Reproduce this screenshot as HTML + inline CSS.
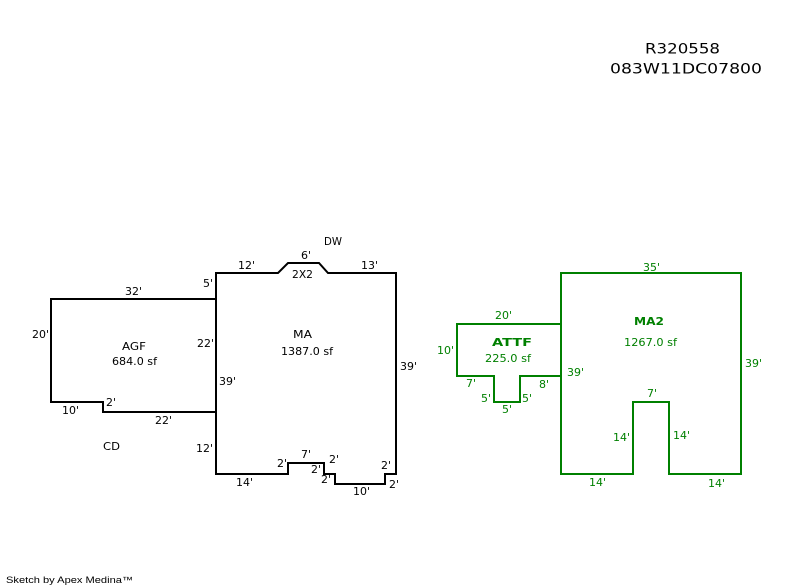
<!DOCTYPE html>
<html><head><meta charset="utf-8"><style>
html,body{margin:0;padding:0;background:#fff;}
svg{display:block;}
text{font-family:"DejaVu Sans","Liberation Sans",sans-serif;font-size:11px;fill:#000;}
.g text{fill:#008000;}
</style></head><body>
<svg width="800" height="587" viewBox="0 0 800 587" xmlns="http://www.w3.org/2000/svg">
<rect width="800" height="587" fill="#fff"/>
<text x="645" y="53.5" style="font-size:14px" textLength="75" lengthAdjust="spacingAndGlyphs">R320558</text>
<text x="610" y="73.5" style="font-size:14px" textLength="152" lengthAdjust="spacingAndGlyphs">083W11DC07800</text>

<g fill="none" stroke="#000" stroke-width="2" stroke-linejoin="miter">
<polyline points="216,299 51,299 51,402 103,402 103,412 216,412"/>
<polygon points="216,273 278,273 288,263 319,263 328,273 396,273 396,474 385,474 385,484 335,484 335,474 324,474 324,463 288,463 288,474 216,474"/>
</g>
<g fill="none" stroke="#008000" stroke-width="2">
<polyline points="561,324 457,324 457,376 494,376 494,402 520,402 520,376 561,376"/>
<polygon points="561,273 741,273 741,474 669,474 669,402 633,402 633,474 561,474"/>
</g>

<!-- AGF labels -->
<text x="125" y="295" textLength="17" lengthAdjust="spacingAndGlyphs">32'</text>
<text x="32" y="338" textLength="17" lengthAdjust="spacingAndGlyphs">20'</text>
<text x="122" y="350" textLength="24" lengthAdjust="spacingAndGlyphs">AGF</text>
<text x="112" y="365" textLength="45" lengthAdjust="spacingAndGlyphs">684.0 sf</text>
<text x="203" y="287">5'</text>
<text x="197" y="347" textLength="17" lengthAdjust="spacingAndGlyphs">22'</text>
<text x="62" y="414" textLength="17" lengthAdjust="spacingAndGlyphs">10'</text>
<text x="106" y="406">2'</text>
<text x="155" y="424" textLength="17" lengthAdjust="spacingAndGlyphs">22'</text>
<text x="103" y="450" textLength="17" lengthAdjust="spacingAndGlyphs">CD</text>
<text x="196" y="452" textLength="17" lengthAdjust="spacingAndGlyphs">12'</text>

<!-- MA labels -->
<text x="324" y="245" textLength="18" lengthAdjust="spacingAndGlyphs">DW</text>
<text x="301" y="259">6'</text>
<text x="238" y="269" textLength="17" lengthAdjust="spacingAndGlyphs">12'</text>
<text x="361" y="269" textLength="17" lengthAdjust="spacingAndGlyphs">13'</text>
<text x="292" y="278" textLength="21" lengthAdjust="spacingAndGlyphs">2X2</text>
<text x="293" y="338" textLength="19" lengthAdjust="spacingAndGlyphs">MA</text>
<text x="281" y="355" textLength="52" lengthAdjust="spacingAndGlyphs">1387.0 sf</text>
<text x="400" y="370" textLength="17" lengthAdjust="spacingAndGlyphs">39'</text>
<text x="219" y="385" textLength="17" lengthAdjust="spacingAndGlyphs">39'</text>
<text x="277" y="467">2'</text>
<text x="301" y="458">7'</text>
<text x="329" y="463">2'</text>
<text x="311" y="473">2'</text>
<text x="321" y="483">2'</text>
<text x="381" y="469">2'</text>
<text x="389" y="488">2'</text>
<text x="236" y="486" textLength="17" lengthAdjust="spacingAndGlyphs">14'</text>
<text x="353" y="495" textLength="17" lengthAdjust="spacingAndGlyphs">10'</text>

<!-- green labels -->
<g class="g">
<text x="495" y="319" textLength="17" lengthAdjust="spacingAndGlyphs">20'</text>
<text x="437" y="354" textLength="17" lengthAdjust="spacingAndGlyphs">10'</text>
<text x="492" y="346" style="font-weight:bold" textLength="40" lengthAdjust="spacingAndGlyphs">ATTF</text>
<text x="485" y="362" textLength="46" lengthAdjust="spacingAndGlyphs">225.0 sf</text>
<text x="466" y="387">7'</text>
<text x="539" y="388">8'</text>
<text x="481" y="402">5'</text>
<text x="522" y="402">5'</text>
<text x="502" y="413">5'</text>
<text x="643" y="271" textLength="17" lengthAdjust="spacingAndGlyphs">35'</text>
<text x="634" y="325" style="font-weight:bold" textLength="30" lengthAdjust="spacingAndGlyphs">MA2</text>
<text x="624" y="346" textLength="53" lengthAdjust="spacingAndGlyphs">1267.0 sf</text>
<text x="567" y="376" textLength="17" lengthAdjust="spacingAndGlyphs">39'</text>
<text x="745" y="367" textLength="17" lengthAdjust="spacingAndGlyphs">39'</text>
<text x="647" y="397">7'</text>
<text x="613" y="441" textLength="17" lengthAdjust="spacingAndGlyphs">14'</text>
<text x="673" y="439" textLength="17" lengthAdjust="spacingAndGlyphs">14'</text>
<text x="589" y="486" textLength="17" lengthAdjust="spacingAndGlyphs">14'</text>
<text x="708" y="487" textLength="17" lengthAdjust="spacingAndGlyphs">14'</text>
</g>

<text x="6" y="583" style="font-family:'Liberation Sans',sans-serif;font-size:9px" textLength="127" lengthAdjust="spacingAndGlyphs">Sketch by Apex Medina™</text>
</svg>
</body></html>
